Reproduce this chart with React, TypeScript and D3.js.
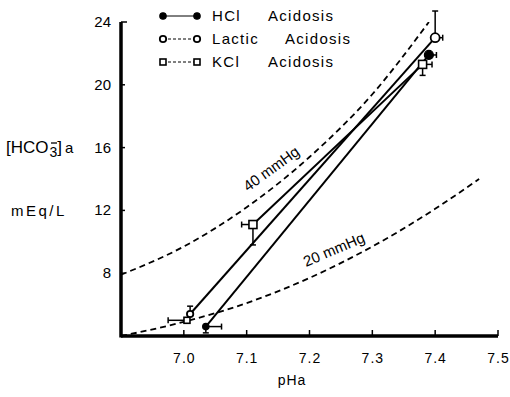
import * as d3 from "d3";

// isobar curves (pH, [HCO3-] mEq/L)
const iso40pH = [6.9, 7.0, 7.1, 7.2, 7.3, 7.39];
const iso40HCO3 = [7.9, 9.7, 12.2, 15.4, 19.4, 24.0];
const iso20pH = [6.9, 7.0, 7.1, 7.2, 7.3, 7.4, 7.47];
const iso20HCO3 = [4.0, 4.9, 6.1, 7.7, 9.7, 12.1, 14.0];

// series: pH, HCO3, one-sided error bars
const hclPH = [7.035, 7.39];
const hclHCO3 = [4.6, 21.9];
const hclXErrPlus = [0.025, 0.012];
const hclYErrMinus = [0.4, 0];

const lacticPH = [7.01, 7.4];
const lacticHCO3 = [5.4, 23.0];
const lacticXErrPlus = [0, 0.012];
const lacticYErrPlus = [0.5, 1.7];

const kclPH = [7.005, 7.11, 7.38];
const kclHCO3 = [5.0, 11.1, 21.3];
const kclXErrMinus = [0.03, 0.018, 0];
const kclXErrPlus = [0, 0, 0.015];
const kclYErrMinus = [0, 1.3, 0.7];

const xTicks = [7.0, 7.1, 7.2, 7.3, 7.4, 7.5];
const yTicks = [8, 12, 16, 20, 24];

const W = 510;
const H = 397;

export default function App() {
  const x = d3.scaleLinear().domain([6.9, 7.5]).range([121, 498]);
  const y = d3.scaleLinear().domain([4, 24]).range([336, 22]);

  const curve = d3
    .line<[number, number]>()
    .x((d) => x(d[0]))
    .y((d) => y(d[1]))
    .curve(d3.curveMonotoneX);
  const straight = d3
    .line<[number, number]>()
    .x((d) => x(d[0]))
    .y((d) => y(d[1]));

  const iso40 = iso40pH.map((p, i) => [p, iso40HCO3[i]] as [number, number]);
  const iso20 = iso20pH.map((p, i) => [p, iso20HCO3[i]] as [number, number]);
  const hcl = hclPH.map((p, i) => [p, hclHCO3[i]] as [number, number]);
  const lactic = lacticPH.map((p, i) => [p, lacticHCO3[i]] as [number, number]);
  const kcl = kclPH.map((p, i) => [p, kclHCO3[i]] as [number, number]);

  const font = "'Liberation Sans', Arial, sans-serif";
  const cap = 3;

  // error bar helper
  const errBar = (
    px: number,
    py: number,
    x0: number,
    x1: number,
    y0: number,
    y1: number,
    key: string
  ) => {
    const out: any[] = [];
    if (x0 !== px || x1 !== px) {
      out.push(
        <g key={key + "x"}>
          <line x1={x(x0)} x2={x(x1)} y1={y(py)} y2={y(py)} stroke="#000" strokeWidth={1.5} />
          {x0 !== px && <line x1={x(x0)} x2={x(x0)} y1={y(py) - cap} y2={y(py) + cap} stroke="#000" strokeWidth={1.5} />}
          {x1 !== px && <line x1={x(x1)} x2={x(x1)} y1={y(py) - cap} y2={y(py) + cap} stroke="#000" strokeWidth={1.5} />}
        </g>
      );
    }
    if (y0 !== py || y1 !== py) {
      out.push(
        <g key={key + "y"}>
          <line x1={x(px)} x2={x(px)} y1={y(y0)} y2={y(y1)} stroke="#000" strokeWidth={1.5} />
          {y0 !== py && <line x1={x(px) - cap} x2={x(px) + cap} y1={y(y0)} y2={y(y0)} stroke="#000" strokeWidth={1.5} />}
          {y1 !== py && <line x1={x(px) - cap} x2={x(px) + cap} y1={y(y1)} y2={y(y1)} stroke="#000" strokeWidth={1.5} />}
        </g>
      );
    }
    return out;
  };

  const legendRows = [
    { name: "HCl", y: 16, word2: 268, kind: "hcl" },
    { name: "Lactic", y: 39, word2: 285, kind: "lactic" },
    { name: "KCl", y: 62, word2: 268, kind: "kcl" },
  ];

  const marker = (kind: string, cx: number, cy: number, key: string, small = false) => {
    const r = small ? 3.2 : 4.5;
    if (kind === "hcl")
      return <circle key={key} cx={cx} cy={cy} r={r} fill="#000" stroke="#000" strokeWidth={1.2} />;
    if (kind === "lactic")
      return <circle key={key} cx={cx} cy={cy} r={r} fill="#fff" stroke="#000" strokeWidth={1.8} />;
    const s = small ? 6 : 8;
    return <rect key={key} x={cx - s / 2} y={cy - s / 2} width={s} height={s} fill="#fff" stroke="#000" strokeWidth={1.6} />;
  };

  return (
    <svg
      width={W}
      height={H}
      style={{ position: "absolute", left: 0, top: 0, background: "#fff" }}
      fontFamily={font}
    >
      <rect width={W} height={H} fill="#fff" />

      {/* isobars */}
      <path d={curve(iso40) ?? ""} fill="none" stroke="#000" strokeWidth={1.8} strokeDasharray="6,4" />
      <path d={curve(iso20) ?? ""} fill="none" stroke="#000" strokeWidth={1.8} strokeDasharray="6,4" />
      <text x={248} y={192} fontSize={15} transform="rotate(-36 248 192)" fill="#000">
        40 mmHg
      </text>
      <text x={306} y={267} fontSize={15} transform="rotate(-23 306 267)" fill="#000">
        20 mmHg
      </text>

      {/* series lines */}
      <path d={straight(hcl) ?? ""} fill="none" stroke="#000" strokeWidth={2} />
      <path d={straight(lactic) ?? ""} fill="none" stroke="#000" strokeWidth={2} />
      <path d={straight(kcl.slice(1)) ?? ""} fill="none" stroke="#000" strokeWidth={2} />

      {/* error bars */}
      {hcl.map((d, i) =>
        errBar(d[0], d[1], d[0], d[0] + hclXErrPlus[i], d[1] - hclYErrMinus[i], d[1], "h" + i)
      )}
      {lactic.map((d, i) =>
        errBar(d[0], d[1], d[0], d[0] + lacticXErrPlus[i], d[1], d[1] + lacticYErrPlus[i], "l" + i)
      )}
      {kcl.map((d, i) =>
        errBar(d[0], d[1], d[0] - kclXErrMinus[i], d[0] + kclXErrPlus[i], d[1] - kclYErrMinus[i], d[1], "k" + i)
      )}

      {/* markers */}
      {hcl.map((d, i) => marker("hcl", x(d[0]), y(d[1]), "hm" + i, i === 0))}
      {lactic.map((d, i) => marker("lactic", x(d[0]), y(d[1]), "lm" + i, i === 0))}
      {kcl.map((d, i) => marker("kcl", x(d[0]), y(d[1]), "km" + i, i === 0))}

      {/* axes */}
      <line x1={x(6.9)} x2={x(6.9)} y1={y(24)} y2={y(4) + 1.5} stroke="#000" strokeWidth={3.5} />
      <line x1={x(6.9)} x2={x(7.5)} y1={y(4)} y2={y(4)} stroke="#000" strokeWidth={3.5} />
      {yTicks.map((t) => (
        <g key={"yt" + t}>
          <line x1={x(6.9)} x2={x(6.9) + (t === 24 ? 6 : 4)} y1={y(t)} y2={y(t)} stroke="#000" strokeWidth={1.5} />
          <text x={111} y={y(t) + 5} fontSize={15} textAnchor="end" fill="#000">
            {t}
          </text>
        </g>
      ))}
      {xTicks.map((t) => (
        <g key={"xt" + t}>
          <line x1={x(t)} x2={x(t)} y1={y(4)} y2={y(4) - 6} stroke="#000" strokeWidth={1.5} />
          <text x={x(t) + 0.5} y={363} fontSize={14} letterSpacing={1} textAnchor="middle" fill="#000">
            {t.toFixed(1)}
          </text>
        </g>
      ))}

      {/* axis titles */}
      <text x={292} y={385} fontSize={14} letterSpacing={1} textAnchor="middle" fill="#000">
        pHa
      </text>
      <text x={6} y={153} fontSize={17} fill="#000">
        [HCO
        <tspan dx={1} dy={4} fontSize={14}>3</tspan>
        <tspan dy={-4}>]</tspan>
        <tspan dx={3} fontSize={15}>a</tspan>
      </text>
      <line x1={51} x2={57} y1={143} y2={143} stroke="#000" strokeWidth={1.3} />
      <text x={11} y={216} fontSize={15} letterSpacing={2.5} fill="#000">
        mEq/L
      </text>

      {/* legend */}
      {legendRows.map((r) => (
        <g key={r.name}>
          <line x1={163} x2={197} y1={r.y} y2={r.y} stroke="#000" strokeWidth={1} strokeDasharray={r.kind === "hcl" ? "none" : "3,2"} />
          {marker(r.kind, 163, r.y, r.name + "a", true)}
          {marker(r.kind, 197, r.y, r.name + "b", true)}
          <text x={212} y={r.y + 5} fontSize={15} letterSpacing={1.3} fill="#000">
            {r.name}
          </text>
          <text x={r.word2} y={r.y + 5} fontSize={15} letterSpacing={1.3} fill="#000">
            Acidosis
          </text>
        </g>
      ))}
    </svg>
  );
}
